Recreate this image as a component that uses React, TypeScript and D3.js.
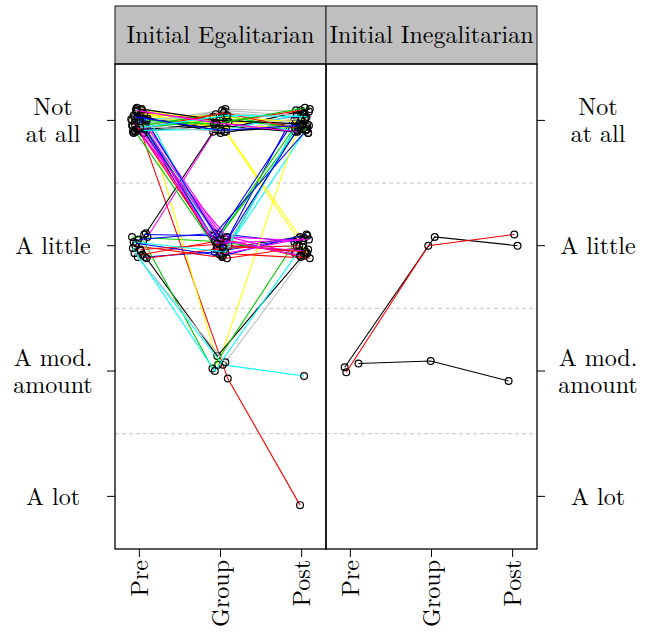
import React from 'react';
import * as d3 from 'd3';

// panel strips, x categories, y categories (top to bottom)
const panels = ['Initial Egalitarian', 'Initial Inegalitarian'];
const times = ['Pre', 'Group', 'Post'];
const levels = [['Not', 'at all'], ['A little'], ['A mod.', 'amount'], ['A lot']];

// R default palette, lines coloured by subject number
const palette = ['black', 'red', '#00CD00', 'blue', 'cyan', 'magenta', 'yellow', '#BEBEBE'];

// Initial Egalitarian: jittered time / response per subject [pre, group, post]
const egalX = [
  [1.04, 1.95, 3.07], [0.98, 2.09, 2.98], [0.91, 2.06, 3.03], [1.07, 1.93, 2.96],
  [0.96, 2.02, 3.09], [1.09, 1.98, 2.92], [1.08, 1.97, 2.97], [0.93, 2.04, 3.05],
  [1.02, 1.96, 3.08], [0.95, 2.08, 3.01], [1.05, 1.9, 2.94], [1.01, 2.05, 2.93],
  [0.98, 2.03, 3.03], [1.1, 1.94, 2.99], [1.03, 2.07, 2.98], [0.94, 2.06, 3.05],
  [1.08, 1.91, 3.06], [0.9, 2.01, 3.1], [1.06, 1.97, 2.95], [0.99, 1.92, 2.91],
  [0.92, 1.93, 3.02], [0.97, 2.1, 3.04], [1.0, 1.95, 3.07], [1.05, 2.04, 2.97],
  [0.94, 1.99, 3.08], [1.04, 2.07, 2.99], [1.02, 1.94, 3.02], [0.96, 2.03, 3.06],
  [1.08, 1.96, 2.94], [0.92, 2.08, 3.01], [1.03, 1.93, 2.96], [0.99, 2.06, 3.09],
  [1.1, 2.0, 2.93], [1.01, 1.95, 3.05], [0.95, 2.02, 3.0], [1.06, 1.91, 3.07],
  [0.91, 2.09, 2.92], [1.07, 1.99, 3.03], [0.97, 1.92, 3.04], [1.04, 2.05, 2.95],
  [0.93, 1.97, 3.1], [1.09, 2.04, 2.97], [1.0, 2.08, 3.06], [0.98, 1.93, 2.91],
  [0.93, 2.06, 3.02], [1.05, 2.0, 2.98], [0.96, 1.95, 3.01], [1.08, 2.02, 2.94],
  [0.92, 1.98, 3.08], [1.02, 2.1, 2.99], [0.95, 1.94, 3.05], [1.07, 2.03, 2.96],
  [0.99, 2.07, 3.03], [0.94, 1.96, 3.09], [1.06, 1.91, 2.93], [0.91, 2.05, 3.0],
  [1.03, 1.99, 3.07], [0.97, 2.04, 2.92], [1.09, 1.92, 3.04], [0.94, 2.01, 2.98],
  [1.01, 2.08, 3.06], [0.96, 1.95, 2.95],
];
const egalY = [
  [1.06, 2.03, 1.92], [1.02, 3.06, 4.07], [1.93, 1.97, 2.08], [2.09, 2.05, 1.94],
  [0.91, 2.08, 1.04], [1.08, 1.91, 2.06], [0.97, 2.95, 1.03], [1.1, 0.94, 0.98],
  [2.04, 2.88, 2.03], [2.0, 2.1, 2.01], [1.96, 2.98, 1.95], [1.05, 1.99, 0.92],
  [2.09, 2.95, 3.04], [1.93, 1.07, 0.96], [0.95, 1.09, 1.93], [2.06, 2.93, 2.07],
  [1.9, 1.09, 1.05], [0.99, 2.06, 2.1], [1.07, 1.94, 1.08], [1.95, 1.9, 1.97],
  [2.02, 3.0, 1.99], [0.93, 2.0, 2.04], [1.03, 0.98, 2.06], [0.96, 2.04, 1.01],
  [1.08, 1.02, 1.1], [2.07, 1.95, 2.09], [1.01, 1.97, 0.95], [1.98, 2.08, 1.91],
  [0.94, 2.02, 2.0], [1.04, 1.93, 1.96], [0.92, 1.05, 1.06], [1.07, 0.91, 0.93],
  [0.98, 1.1, 1.02], [2.03, 1.99, 2.05], [1.09, 2.09, 0.97], [1.91, 1.92, 1.07],
  [1.0, 0.96, 1.09], [1.05, 2.07, 1.94], [0.9, 1.03, 0.99], [1.03, 0.93, 1.05],
  [0.96, 1.08, 0.91], [2.1, 2.02, 2.0], [1.06, 0.99, 1.07], [0.97, 1.96, 1.0],
  [1.97, 2.05, 0.94], [1.1, 1.95, 2.08], [0.93, 1.06, 1.04], [1.01, 0.92, 0.96],
  [1.09, 1.04, 1.1], [0.94, 1.01, 0.92], [1.05, 0.95, 1.08], [0.99, 2.01, 1.06],
  [1.08, 1.07, 0.95], [1.02, 1.98, 1.95], [0.95, 0.97, 1.01], [1.04, 1.09, 0.98],
  [0.91, 1.0, 1.03], [1.07, 0.94, 1.06], [1.0, 1.03, 0.9], [0.97, 1.08, 1.04],
  [1.06, 0.96, 0.97], [0.92, 1.02, 1.09],
];

// Initial Inegalitarian
const ineqIds = [0, 1, 8];
const ineqX = [[0.93, 2.04, 3.06], [0.95, 1.96, 3.02], [1.1, 1.99, 2.95]];
const ineqY = [[2.97, 1.93, 2.0], [3.01, 2.0, 1.91], [2.94, 2.92, 3.08]];

const W = 654;
const H = 634;
const panelW = 211;
const left = 115;
const top = 64;
const bottom = 549;
const stripTop = 6;
const font = '"Latin Modern Roman", "Liberation Serif", serif';
const fs = 24;

const y = d3.scaleLinear().domain([0.55, 4.42]).range([top, bottom]);

export default function App() {
  const data = [
    { xs: egalX, ys: egalY, ids: egalX.map((_, i) => i) },
    { xs: ineqX, ys: ineqY, ids: ineqIds },
  ];
  const line = d3.line<[number, number]>();

  return (
    <svg width={W} height={H} style={{ position: 'absolute', left: 0, top: 0, background: 'white', fontFamily: font }}
      fontSize={fs}>
      {panels.map((name, p) => {
        const x0 = left + p * panelW;
        const x = d3.scaleLinear().domain([0.7, 3.3]).range([x0, x0 + panelW]);
        const d = data[p];
        return (
          <g key={name}>
            <rect x={x0} y={stripTop} width={panelW} height={top - stripTop} fill="#BFBFBF" stroke="#333" strokeWidth={1.2} />
            <text x={x0 + panelW / 2} y={(stripTop + top) / 2} dy="0.35em" textAnchor="middle">{name}</text>
            {[1.5, 2.5, 3.5].map((v) => (
              <line key={v} x1={x0} x2={x0 + panelW} y1={y(v)} y2={y(v)} stroke="#BEBEBE" strokeDasharray="4,3" strokeWidth={0.9} />
            ))}
            {d.xs.map((row, i) => {
              const pts = row.map((t, k) => [x(t), y(d.ys[i][k])] as [number, number]);
              const col = palette[d.ids[i] % 8];
              return (
                <g key={i}>
                  <path d={line(pts) || ''} fill="none" stroke={col} strokeWidth={1.1} />
                  {pts.map((pt, k) => (
                    <circle key={k} cx={pt[0]} cy={pt[1]} r={3.4} fill="none" stroke="black" strokeWidth={1.2} />
                  ))}
                </g>
              );
            })}
            <rect x={x0} y={top} width={panelW} height={bottom - top} fill="none" stroke="black" strokeWidth={1.3} />
            {times.map((t, k) => (
              <g key={t}>
                <line x1={x(k + 1)} x2={x(k + 1)} y1={bottom} y2={bottom + 8} stroke="black" strokeWidth={1} />
                <text transform={`translate(${x(k + 1)},${bottom + 11}) rotate(-90)`} dy="0.35em" textAnchor="end">{t}</text>
              </g>
            ))}
          </g>
        );
      })}
      {levels.map((lab, k) => {
        const yy = y(k + 1);
        const off = (lab.length - 1) * 13.5;
        return (
          <g key={k}>
            <line x1={left - 8} x2={left} y1={yy} y2={yy} stroke="black" strokeWidth={1} />
            <line x1={left + 2 * panelW} x2={left + 2 * panelW + 8} y1={yy} y2={yy} stroke="black" strokeWidth={1} />
            {lab.map((s, j) => (
              <g key={j}>
                <text x={53} y={yy - off + j * 27} dy="0.35em" textAnchor="middle">{s}</text>
                <text x={598} y={yy - off + j * 27} dy="0.35em" textAnchor="middle">{s}</text>
              </g>
            ))}
          </g>
        );
      })}
    </svg>
  );
}
